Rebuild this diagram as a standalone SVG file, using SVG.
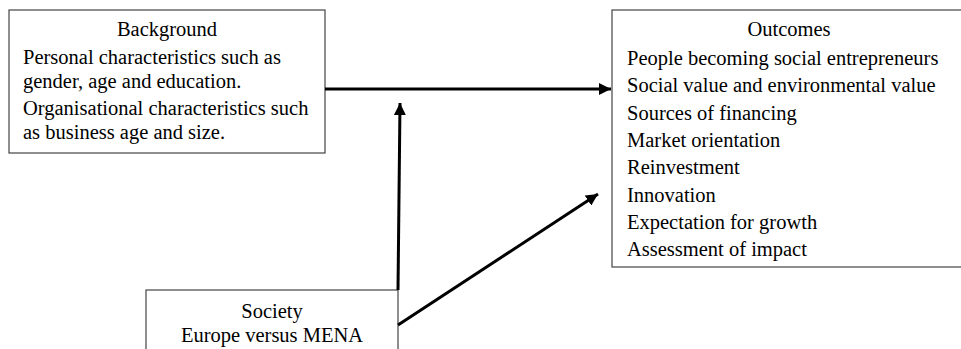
<svg xmlns="http://www.w3.org/2000/svg" width="961" height="349" viewBox="0 0 961 349">
<style>
.box{fill:#fff;stroke:#444;stroke-width:1.2}
text{font-family:"Liberation Serif","Times New Roman",serif;font-size:20.5px;fill:#000}
.c{text-anchor:middle}
.conn{stroke:#000;stroke-width:3;fill:none}
</style>
<defs>
<marker id="ah" viewBox="0 0 10 10" refX="10" refY="5" markerWidth="4" markerHeight="4" orient="auto" markerUnits="strokeWidth">
<path d="M0,0 L10,5 L0,10 z" fill="#000"/>
</marker>
</defs>
<g id="background">
<rect class="box" x="9" y="10" width="316" height="143"/>
<text class="c" x="167" y="36">Background</text>
<text x="23" y="64">Personal characteristics such as</text>
<text x="23" y="88">gender, age and education.</text>
<text x="23" y="115">Organisational characteristics such</text>
<text x="23" y="139">as business age and size.</text>
</g>
<g id="outcomes">
<rect class="box" x="612" y="10" width="350" height="257"/>
<text class="c" x="789" y="36">Outcomes</text>
<text x="627" y="65">People becoming social entrepreneurs</text>
<text x="627" y="92">Social value and environmental value</text>
<text x="627" y="120">Sources of financing</text>
<text x="627" y="147">Market orientation</text>
<text x="627" y="174">Reinvestment</text>
<text x="627" y="202">Innovation</text>
<text x="627" y="229">Expectation for growth</text>
<text x="627" y="256">Assessment of impact</text>
</g>
<g id="society">
<rect class="box" x="146" y="290" width="252" height="70"/>
<text class="c" x="272" y="318">Society</text>
<text class="c" x="272" y="342">Europe versus MENA</text>
</g>
<g id="connectors">
<line class="conn" x1="325" y1="89" x2="611" y2="89" marker-end="url(#ah)"/>
<line class="conn" x1="398" y1="290" x2="400" y2="103" marker-end="url(#ah)"/>
<line class="conn" x1="398" y1="325" x2="598" y2="194" marker-end="url(#ah)"/>
</g>
</svg>
